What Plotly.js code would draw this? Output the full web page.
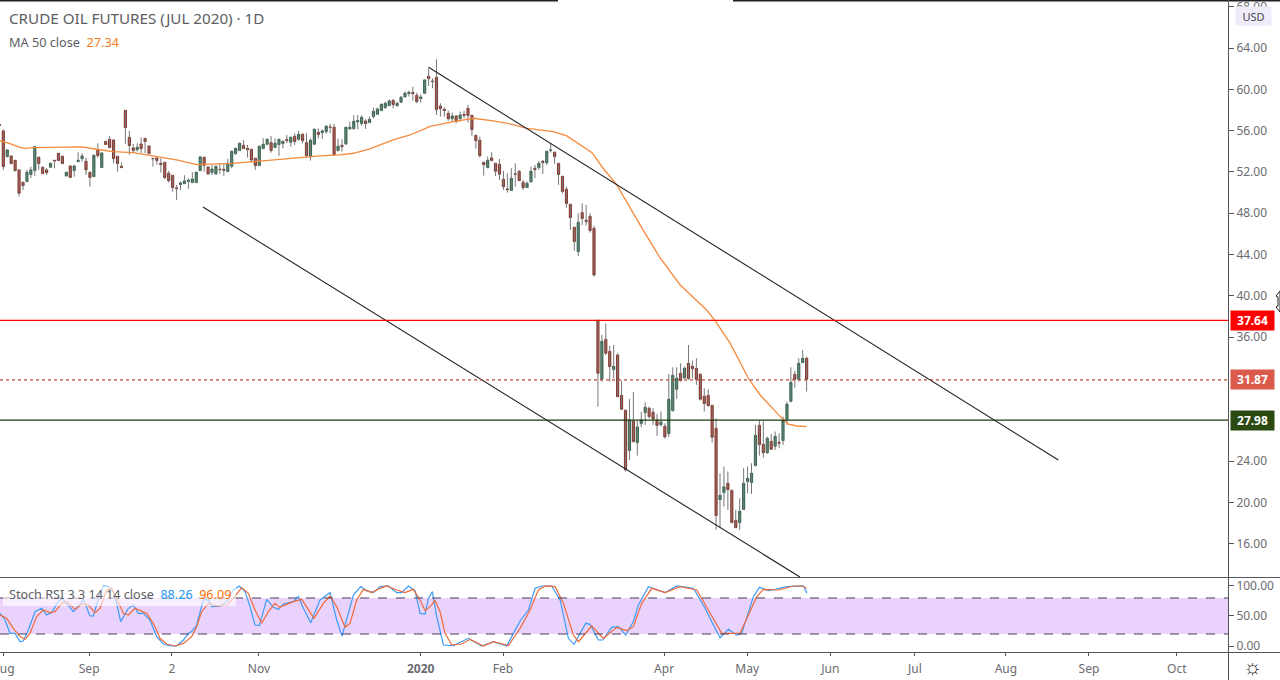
<!DOCTYPE html>
<html>
<head>
<meta charset="utf-8">
<script src="https://cdn.plot.ly/plotly-3.0.1.min.js"></script>
<style>html,body{margin:0;padding:0;background:#fff;overflow:hidden}#c{width:1280px;height:680px}</style>
</head>
<body>
<div id="c"></div>
<script>
// ---------- candles (one entry per trading day, left to right) ----------
const opens = [56.6,55.97,53.49,53.55,53.13,52.2,51.0,51.07,51.75,52.13,53.42,52.46,52.2,52.46,53.13,53.81,53.52,51.62,52.58,52.13,53.0,53.29,53.04,51.97,51.55,54.13,52.42,54.97,55.16,55.1,53.52,52.55,57.97,55.36,54.33,54.16,54.71,55.26,54.52,53.32,53.36,52.84,52.94,51.87,51.68,50.46,50.78,50.87,51.07,50.97,50.97,52.13,53.42,52.49,51.94,51.81,52.26,52.26,52.03,52.55,53.78,54.07,54.58,54.29,54.2,53.33,52.62,54.26,54.68,54.84,54.36,54.65,54.75,55.16,54.87,55.45,55.16,55.65,54.84,53.49,54.68,55.84,
55.81,55.91,56.36,56.33,54.07,54.58,54.71,56.16,56.2,56.84,56.68,56.94,56.78,57.36,57.58,57.94,58.23,58.42,58.94,58.42,58.75,59.26,59.58,59.71,59.42,59.1,59.62,61.26,60.81,61.16,58.39,58.07,57.68,57.16,57.42,57.16,57.58,58.16,57.49,55.55,55.07,52.94,52.42,53.36,52.84,52.75,51.29,50.36,50.2,51.81,52.07,51.0,50.49,51.04,52.36,52.42,53.04,52.88,54.07,53.91,52.84,51.58,50.33,48.87,46.65,44.29,48.07,47.33,47.71,46.55,
37.64,31.93,35.8,34.64,32.87,34.29,30.38,28.93,25.03,27.87,25.8,27.64,28.7,29.12,28.74,28.0,27.54,27.38,26.67,28.9,30.96,32.51,32.06,33.48,33.19,33.0,32.41,30.29,30.38,29.41,27.19,20.28,20.96,21.87,21.19,18.28,18.06,19.32,22.03,21.93,23.58,27.48,25.64,24.83,25.93,25.45,25.83,26.0,28.06,29.8,32.41,31.93,33.54,33.96];
const closes = [56.5,52.52,54.13,52.81,52.13,49.94,50.68,51.97,52.2,54.45,52.81,51.84,51.94,52.84,53.07,53.1,52.81,51.97,51.46,52.58,53.13,53.55,52.2,51.46,53.62,53.58,53.84,54.65,54.36,53.29,52.81,52.42,56.29,54.55,54.07,54.39,54.26,54.94,53.78,53.29,53.1,52.71,51.46,51.16,50.49,50.39,50.94,51.13,51.2,51.32,51.97,53.45,52.62,51.81,52.29,52.55,52.23,52.16,52.84,54.0,54.29,54.78,54.26,54.16,53.16,52.62,54.49,54.68,55.16,54.07,54.78,55.16,54.97,55.03,55.36,54.94,55.65,55.03,53.58,55.07,56.13,55.62,
55.97,56.42,56.33,53.68,54.49,54.45,56.33,56.33,56.91,56.97,57.29,56.68,57.1,57.87,58.1,58.55,58.65,58.87,58.52,58.65,59.23,59.62,59.71,59.58,58.81,59.26,60.91,61.03,60.75,58.04,58.13,57.94,57.16,57.42,56.91,57.52,57.49,57.46,56.1,55.03,53.58,52.71,53.13,53.1,52.07,51.78,50.58,50.29,51.39,51.78,51.16,50.49,50.91,52.07,52.23,52.84,52.91,54.0,54.13,53.49,51.75,50.1,48.94,47.58,45.26,47.13,47.49,47.2,46.33,42.03,
32.51,35.61,34.45,33.16,33.19,30.25,29.03,23.16,28.0,25.9,27.32,28.0,29.22,28.32,28.09,27.45,27.8,26.35,30.0,32.32,32.03,31.83,33.0,32.0,32.96,31.93,30.0,29.58,29.38,26.32,18.74,20.7,21.51,21.25,18.06,17.58,19.16,21.87,22.35,22.83,26.51,25.61,24.83,26.22,25.16,26.41,25.74,27.96,29.51,31.64,31.93,33.48,33.96,31.93];
const highs = [56.65,56.13,54.2,53.6,53.15,52.25,51.05,52.2,52.52,54.52,53.5,52.52,52.36,52.9,53.16,53.84,53.58,52.03,52.65,52.68,53.91,53.81,53.39,52.03,53.68,54.78,53.87,55.0,55.49,55.16,53.55,52.91,58.0,55.97,54.71,54.78,55.36,55.29,54.55,53.36,53.42,53.33,52.97,52.1,51.71,50.75,51.07,51.68,51.39,52.0,52.03,53.55,53.49,52.52,52.68,52.62,52.84,52.78,53.26,54.07,54.36,54.84,55.1,54.62,54.23,53.36,54.55,55.26,55.26,55.49,55.26,55.23,55.03,55.58,55.42,55.75,55.97,55.75,55.75,55.26,56.2,56.23,
56.13,56.55,56.65,56.65,55.23,55.16,56.36,56.87,57.49,57.52,57.49,57.13,57.36,58.23,58.23,58.62,58.81,59.03,59.03,58.81,59.36,59.78,59.87,60.26,59.68,59.52,60.97,62.04,61.07,62.91,58.65,58.26,57.94,57.75,57.52,57.84,57.91,58.49,57.52,55.58,55.42,52.97,53.49,53.91,52.87,53.26,52.1,51.87,52.36,52.84,52.2,51.23,51.07,52.52,52.68,53.07,53.16,54.07,54.78,53.97,52.87,51.62,50.58,48.91,46.68,48.0,48.97,48.81,48.0,46.78,
37.64,36.22,37.35,35.16,35.25,34.45,31.8,28.99,30.03,30.7,27.9,28.8,29.7,29.29,29.12,28.58,28.8,27.67,32.45,33.09,33.09,33.48,33.16,35.25,33.74,33.96,32.51,31.06,30.96,29.45,28.16,22.83,23.48,23.0,21.22,19.29,20.41,23.32,23.48,23.8,27.51,28.0,27.9,26.38,26.64,26.87,26.7,28.32,29.77,33.09,32.74,33.96,34.77,34.12];
const lows = [56.45,52.2,53.4,52.75,52.03,49.62,50.26,51.03,51.42,51.62,52.2,51.81,51.71,52.4,52.36,53.07,52.78,51.55,51.42,51.55,52.97,53.0,51.71,50.58,51.52,53.39,52.39,54.62,54.29,52.84,52.03,52.39,54.71,53.65,53.81,53.97,53.81,53.81,53.75,52.52,52.68,51.94,51.29,50.97,50.1,49.29,50.26,50.84,50.36,50.94,50.94,52.1,52.03,51.71,51.71,51.71,51.81,51.62,52.0,52.36,53.65,54.04,54.23,53.39,52.91,52.2,52.58,54.23,54.65,53.87,54.33,53.55,54.29,54.78,54.45,54.62,55.03,54.78,53.39,53.1,54.65,55.23,
55.2,55.68,55.75,53.65,53.97,53.97,54.62,56.13,56.07,56.13,56.45,56.16,56.75,57.2,57.55,57.91,58.1,58.39,58.16,58.33,58.71,59.23,59.29,58.91,58.65,58.71,59.58,60.33,60.1,57.52,57.36,57.36,56.97,56.87,56.71,56.87,57.2,56.78,55.49,54.26,53.39,51.65,52.36,53.07,51.62,51.23,50.26,50.0,50.16,50.58,51.13,50.26,50.46,51.0,51.39,52.2,51.81,52.68,53.87,52.78,50.75,49.94,48.55,46.39,44.36,43.87,46.87,46.81,46.13,41.87,
29.28,31.7,34.29,31.7,32.03,30.19,28.96,23.0,24.12,25.8,24.54,27.29,27.51,28.16,27.51,26.45,27.35,26.19,26.32,28.8,30.03,31.7,32.03,31.87,32.03,31.38,29.87,28.8,29.29,25.8,17.35,17.51,19.61,19.29,18.0,17.51,17.35,19.29,20.9,20.83,23.48,24.54,24.35,24.7,25.09,25.09,25.25,25.58,27.51,29.7,31.12,31.7,33.54,30.74];

// ---------- MA 50 ----------
const maBars = [-1,1.7,4.2,5.5,7.6,16.1,19.9,23.7,27.9,33,35.5,39.8,44,49.1,54.2,58.4,63.4,67,73.6,80.4,85.5,88.9,93.1,99,103.3,108.4,114.3,119.4,124.4,128.7,133,139.7,143.1,149.5,152.3,155.8,161.7,166.8,171.9,178.6,180.7,184.6,189.2,192.2,197.3,199.4,201.5,204];
const maValues = [55.04,54.75,54.39,54.29,54.36,54.42,54.42,54.2,53.97,53.87,53.71,53.49,53.16,52.71,52.78,52.84,53.0,53.13,53.36,53.55,53.65,53.81,54.23,55.1,55.58,56.42,56.87,57.2,56.94,56.65,56.23,55.91,55.49,53.87,52.36,50.75,46.87,43.67,41.06,38.64,37.64,35.41,32.03,30.41,28.32,27.58,27.41,27.34];

// ---------- Stoch RSI ----------
const kBars = [-0.84,0.43,1.7,2.97,4.24,5.09,6.36,8.05,9.74,11,12.28,13.97,14.82,16.09,17.78,19.05,20.32,22,22.86,24.56,25.4,26.67,27.94,28.79,29.8,31.75,33.02,34.29,35.56,37.25,38.95,40.64,42.33,44.03,45.72,46.99,47.84,49.1,50.8,52.07,52.9,55.03,56.73,58.42,59.94,61.38,62.65,63.92,65.02,66.88,68.58,69.85,71.12,73.66,74.93,76.2,78.06,80.43,82.97,84.66,86.02,87.2,88.9,90.76,92.28,93.97,95.67,97.78,99.9,101.17,102.86,104.56,105.83,107.1,107.95,108.96,110.06,111.76,114.3,118.1,121.49,124.45,127.84,131.23,133.34,135.04,136.73,139.27,141.39,143.5,144.94,147.9,149,151.12,152.22,154.5,156.2,158.06,160.01,161.28,163.82,168.05,171.02,175.25,178.21,180.33,182.02,184.14,186.25,187.52,190.48,192.01,194.3,195.99,198.95,203.19,204.03];
const kValues = [54.4,43.3,21.1,21.1,7.2,8.3,26.7,57.2,62.8,51.7,55.6,73.9,79.4,71.1,57.2,65.6,77.8,50,50,87.8,100,98.9,90.6,71.1,40.6,62.8,68.3,54.4,54.4,43.3,15.6,3.3,0,0,10,21.1,23.9,35,76.7,76.7,65.6,66.7,73.9,93.3,100,90.6,65.6,35,33.9,77.8,64.4,61.1,70,73.9,82.2,62.8,38.9,76.7,88.9,43.3,16.7,43.3,85,98.9,92.2,88.9,98.9,100,88.9,88.9,100,92.2,54.4,53.3,79.4,90.6,48.9,1.7,0.6,12.8,0,7.2,0,41.7,60,96.1,100,100,76.7,12.8,2.8,37.8,36.1,10,10,31.1,32.2,18.3,40.6,68.3,98.9,88.9,100,96.1,62.8,35,13.9,27.8,18.3,21.1,82.2,97.8,92.2,94.4,98.9,100,88.26];
const dBars = [-0.84,0.85,2.55,4.24,5.51,6.78,8.47,10.17,11.86,13.13,14.82,16.09,18.21,20.32,21.59,23.29,24.56,26.25,27.52,28.79,30.48,31.75,33.45,36.41,38.1,39.79,41.49,43.6,45.72,47.84,49.1,50.38,52.07,54.19,56.73,58.42,60.54,62.23,63.92,65.61,67.31,69,70.1,71.96,73.66,75.77,77.47,78.9,81.28,82.97,84.66,86.78,88.05,89.74,91.43,93.55,95.67,97.36,99.9,102,104.13,105.83,107.1,108.37,109.64,110.91,112.18,113.87,116.41,118.53,121.91,124.45,128.26,131.23,133.77,135.88,137.58,140.12,142.23,144.77,146.04,149.43,152.39,155.78,158.32,160.01,162.13,164.67,168.05,171.86,176.09,179.48,182.45,187.1,191.33,193.03,196.84,200.65,202.77,204.03];
const dValues = [51.7,46.1,29.4,15.6,11.1,21.1,48.9,60,55.6,57.2,71.1,73.9,61.1,71.1,68.3,55.6,62.8,93.3,96.1,79.4,54.4,51.7,62.8,54.4,37.8,12.8,3.3,0,4.4,15.6,32.2,57.2,71.1,66.7,68.3,79.4,97.2,87.8,60,37.8,57.2,71.1,64.4,69.4,73.9,77.8,60,46.1,71.1,83.3,65.6,31.1,37.8,76.7,94.4,88.9,96.1,100,93.3,88.9,94.4,76.7,58.9,65.6,75.6,57.2,21.1,1.7,3.3,11.1,0,7.2,0.6,29.4,60,93.3,100,98.9,71.1,18.3,7.2,33.3,12.8,31.1,25.6,32.2,71.1,96.1,88.9,98.9,93.3,54.4,21.1,21.1,82.2,94.4,93.3,100,100,96.09];

// ---------- drawn trend channel ----------
const upperBars = [108, 267.9];
const upperPrices = [62.13, 24.12];
const lowerBars = [50.7, 202.3];
const lowerPrices = [48.61, 12.79];

// ---------- level lines ----------
const resistance = 37.64, lastPrice = 31.87, support = 27.98;
const stochUpper = 80, stochLower = 20;

// ---------- axes ----------
const priceTicks = [16,20,24,36,40,44,48,52,56,60,64,68];
const stochTicks = [0,50,100];
const timeTickBars = [0,21.8,42.8,64.9,106,126.9,167.8,188.9,210,231.5,254.6,275.7,298];
const timeTickLabels = ['Aug','Sep','2','Nov','<b>2020</b>','Feb','Apr','May','Jun','Jul','Aug','Sep','Oct'];

// ---------- layout helpers ----------
const W = 1280, H = 680, PW = 1228, PH = 652;
const FONT = '"Noto Sans", "Open Sans", sans-serif';
const GREY = '#6b6b70', AXIS = '#55555a';
const px = x => x / PW;
const py = y => (PH - y) / PH;
const bars = opens.map((_, i) => i - 1);   // the first candle sits just off the left edge

// wicks: one grey stem per candle, drawn first
const wickX = [], wickY = [];
opens.forEach((_, i) => { wickX.push(bars[i], bars[i], null); wickY.push(highs[i], lows[i], null); });

const traces = [
  {type:'scatter', mode:'lines', x:wickX, y:wickY, line:{color:'#77777a', width:1}, hoverinfo:'skip', xaxis:'x', yaxis:'y'},
  {type:'candlestick', x:bars, open:opens, close:closes,
   high:opens.map((o, i) => Math.max(o, closes[i])),
   low:opens.map((o, i) => Math.min(o, closes[i])),
   increasing:{fillcolor:'#2f8a5c', line:{color:'#1f5239', width:0.8}},
   decreasing:{fillcolor:'#cc3423', line:{color:'#6e2418', width:0.8}},
   hoverinfo:'skip', xaxis:'x', yaxis:'y'},
  {type:'scatter', mode:'lines', x:maBars, y:maValues, line:{color:'#f58a3c', width:1.3}, hoverinfo:'skip', xaxis:'x', yaxis:'y'},
  {type:'scatter', mode:'lines', x:upperBars, y:upperPrices, line:{color:'#222226', width:1.1}, hoverinfo:'skip', xaxis:'x', yaxis:'y'},
  {type:'scatter', mode:'lines', x:lowerBars, y:lowerPrices, line:{color:'#222226', width:1.1}, hoverinfo:'skip', xaxis:'x', yaxis:'y'},
  {type:'scatter', mode:'lines', x:kBars, y:kValues, line:{color:'#3d9bf5', width:1.2}, hoverinfo:'skip', xaxis:'x', yaxis:'y2'},
  {type:'scatter', mode:'lines', x:dBars, y:dValues, line:{color:'#ef6a3a', width:1.2}, hoverinfo:'skip', xaxis:'x', yaxis:'y2'}
];

const hLine = (v, color, dash, yref, width) => ({type:'line', xref:'paper', yref:yref || 'y', x0:0, x1:1, y0:v, y1:v,
  line:{color:color, width:width || 1.2, dash:dash || 'solid'}, layer:'above'});
const chrome = (x0, y0, x1, y1, color, width) => ({type:'line', xref:'paper', yref:'paper',
  x0:px(x0), x1:px(x1), y0:py(y0), y1:py(y1), line:{color:color, width:width || 1}, layer:'above'});

const shapes = [
  {type:'rect', xref:'paper', yref:'y2', x0:0, x1:1, y0:stochLower, y1:stochUpper, fillcolor:'#e9d3fd', line:{width:0}, layer:'below'},
  hLine(stochUpper, '#4a3d58', 'dash', 'y2', 1),
  hLine(stochLower, '#4a3d58', 'dash', 'y2', 1),
  hLine(resistance, '#ff0000'),
  hLine(lastPrice, '#b8473c', 'dot'),
  hLine(support, '#1c3a0c'),
  chrome(0, 0.5, 558, 0.5, '#222226', 2),
  chrome(733, 0.5, W, 0.5, '#222226', 2),
  chrome(0, 577.5, W, 577.5, AXIS),
  chrome(0, 652.5, W, 652.5, AXIS),
  chrome(PW + 0.5, 0, PW + 0.5, H, AXIS),
  {type:'rect', xref:'paper', yref:'paper', x0:px(3), x1:px(236), y0:py(606), y1:py(586), fillcolor:'rgba(255,255,255,0.62)', line:{width:0}, layer:'above'},
  {type:'path', xref:'paper', yref:'paper', layer:'above', fillcolor:'#ffffff', line:{color:'#222', width:1},
   path:`M${px(1280)} ${py(291)} L${px(1276)} ${py(296)} L${px(1278)} ${py(297)} L${px(1278)} ${py(306)} L${px(1276)} ${py(307)} L${px(1280)} ${py(312)} Z`}
];

const priceBadge = (v, bg) => ({xref:'paper', yref:'y', x:px(1230), y:v, xanchor:'left', yanchor:'middle',
  text:'<b>' + v.toFixed(2) + '</b>', showarrow:false, width:43, height:19, bgcolor:bg, borderpad:0,
  font:{family:FONT, size:12, color:'#ffffff'}, align:'center'});
const label = (x, y, text, size, color, anchor) => ({xref:'paper', yref:'paper', x:px(x), y:py(y), xanchor:anchor || 'left', yanchor:'middle',
  text:text, showarrow:false, font:{family:FONT, size:size, color:color}, borderpad:0});

const annotations = [
  label(7.5, 17.5, 'CRUDE OIL FUTURES (JUL 2020) · 1D', 15.2, '#5d5d62'),
  label(7.5, 41.5, 'MA 50 close  <span style="color:#f57c1f">27.34</span>', 12.7, '#5d5d62'),
  label(7.5, 594, 'Stoch RSI 3 3 14 14 close  <span style="color:#2196f3">88.26</span>  <span style="color:#ff6d00">96.09</span>', 12.6, '#5d5d62'),
  priceBadge(resistance, '#ff0000'),
  priceBadge(lastPrice, '#dc5a4c'),
  priceBadge(support, '#2a4a12'),
  Object.assign(label(1235, 16, 'USD', 11, '#46464b'), {bgcolor:'#f0ecf9', width:35, height:18, align:'center'}),
  label(1253, 666, '☼', 21, '#2a2a2e', 'center')
];

const layout = {
  width:W, height:H, margin:{l:0, r:W - PW, t:0, b:H - PH, pad:0},
  paper_bgcolor:'#ffffff', plot_bgcolor:'#ffffff', showlegend:false, dragmode:false, hovermode:false,
  boxgap:0.2,
  xaxis:{domain:[0,1], range:[-0.84,311], anchor:'y2', tickmode:'array', tickvals:timeTickBars, ticktext:timeTickLabels,
    ticks:'outside', ticklen:3, tickcolor:AXIS, tickwidth:1, ticklabelstandoff:3, ticklabeloverflow:'allow', showgrid:false, zeroline:false, showline:false,
    rangeslider:{visible:false}, tickfont:{family:FONT, size:12, color:GREY}},
  yaxis:{domain:[py(577),py(1)], range:[12.79,68.55], side:'right', anchor:'x', tickmode:'array', tickvals:priceTicks, tickformat:'.2f',
    ticks:'outside', ticklen:5, tickcolor:AXIS, ticklabeloverflow:'allow', showgrid:false, zeroline:false, showline:false,
    tickfont:{family:FONT, size:12, color:GREY}},
  yaxis2:{domain:[0,py(578)], range:[-10,113.3], side:'right', anchor:'x', tickmode:'array', tickvals:stochTicks, tickformat:'.2f',
    ticks:'outside', ticklen:5, tickcolor:AXIS, ticklabeloverflow:'allow', showgrid:false, zeroline:false, showline:false,
    tickfont:{family:FONT, size:12, color:GREY}},
  shapes:shapes, annotations:annotations
};
Plotly.newPlot('c', traces, layout, {displayModeBar:false, staticPlot:true});
</script>
</body>
</html>
